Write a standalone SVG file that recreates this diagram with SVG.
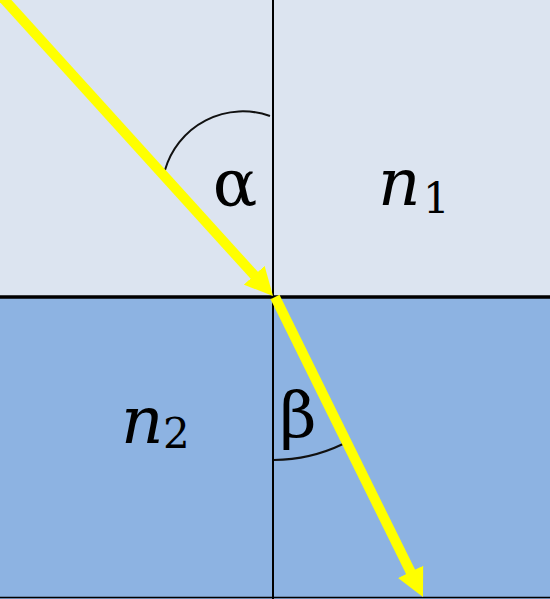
<svg xmlns="http://www.w3.org/2000/svg" width="550" height="599" viewBox="0 0 550 599">
<style>
.ray{stroke:#FFFF00;stroke-width:10;fill:none}
.axis{stroke:#000;fill:none}
.arc{stroke:#111;stroke-width:2;fill:none}
</style>
<defs>
<marker id="head" markerUnits="userSpaceOnUse" markerWidth="28" markerHeight="28" refX="8" refY="14" orient="auto">
<path d="M0,0 L28,14 L0,28 z" fill="#FFFF00"/>
</marker>
</defs>
<g id="medium1"><rect x="0" y="0" width="550" height="297" fill="#DCE4F0"/></g>
<g id="medium2"><rect x="0" y="297" width="550" height="302" fill="#8DB3E2"/></g>
<g id="axes">
<line class="axis" x1="273" y1="0" x2="273" y2="599" stroke-width="2"/>
<line class="axis" x1="0" y1="297" x2="550" y2="297" stroke-width="3.5"/>
<line class="axis" x1="0" y1="597.5" x2="550" y2="597.5" stroke-width="1.5"/>
</g>
<g id="angles">
<path class="arc" d="M270,116 A81,81 0 0 0 165,170"/>
<path class="arc" d="M274,460 A163,163 0 0 0 343,444"/>
</g>
<g id="connectors">
<line class="ray" x1="-2" y1="-7.4" x2="259.6" y2="281.2" marker-end="url(#head)"/>
<line class="ray" x1="275" y1="297" x2="414.15" y2="579.06" marker-end="url(#head)"/>
</g>
<g id="labels" font-family="'DejaVu Serif', serif" fill="#000">
<text x="235" y="206" font-size="66" text-anchor="middle">α</text>
<text x="298" y="437" font-size="64" text-anchor="middle">β</text>
<text x="378" y="205" font-size="66" font-style="italic">n</text>
<text x="423" y="213" font-size="42">1</text>
<text x="121" y="443" font-size="66" font-style="italic">n</text>
<text x="163" y="448" font-size="42">2</text>
</g>
</svg>
